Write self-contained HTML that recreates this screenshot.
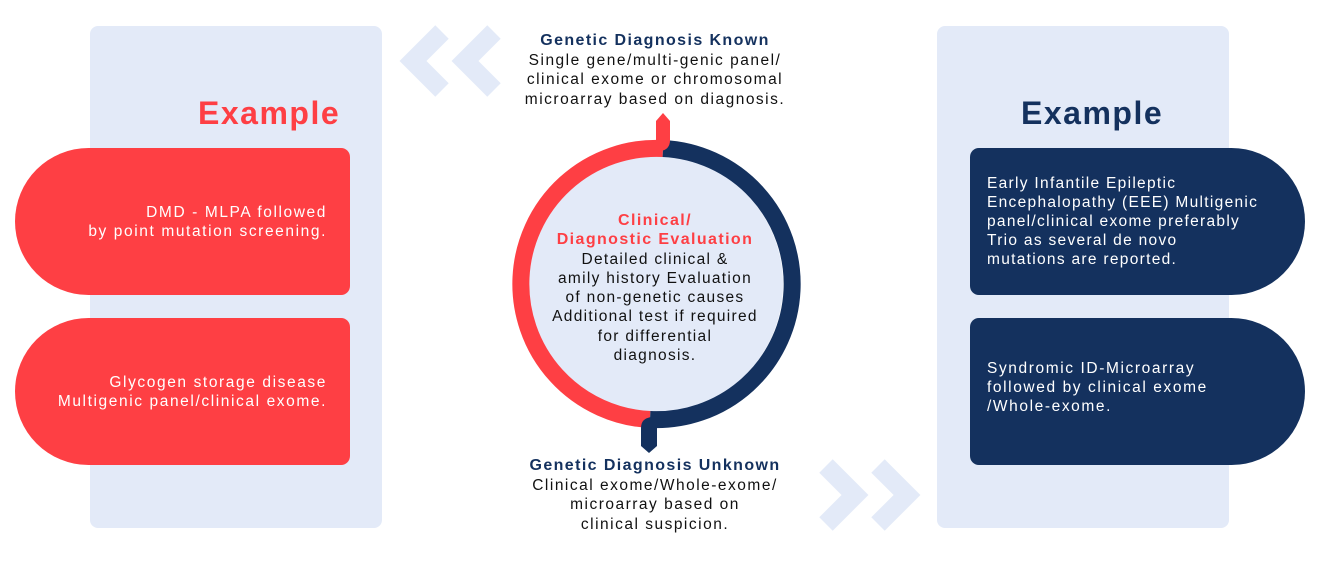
<!DOCTYPE html>
<html><head><style>
body{margin:0;width:1320px;height:566px;background:#fff;position:relative;overflow:hidden;font-family:"Liberation Sans",sans-serif}
.a{position:absolute}
.panel{background:#e3eaf8;border-radius:8px}
.pill{display:flex;align-items:center;color:#fff;font-size:15.5px;line-height:19px;letter-spacing:1.6px;box-sizing:border-box;white-space:nowrap}
.red{background:#fe3f44;border-radius:74px 9px 9px 74px;justify-content:flex-end;text-align:right;padding-right:23px}
.navy{background:#14315e;border-radius:9px 74px 74px 9px;padding-left:17px}
.ex{font-weight:bold;font-size:32px;letter-spacing:1.5px}
.t{text-align:center;color:#111;font-size:15.5px;line-height:19.5px;letter-spacing:1.5px;white-space:nowrap}
.t b{color:#14315e;font-size:16px;letter-spacing:1.4px}
</style></head><body>
<div class="a panel" style="left:90px;top:26px;width:292px;height:502px"></div>
<div class="a panel" style="left:937px;top:26px;width:292px;height:502px"></div>
<div class="a ex" style="left:198px;top:95px;color:#fe3f44">Example</div>
<div class="a ex" style="left:1021px;top:95px;color:#14315e">Example</div>
<div class="a pill red" style="left:15px;top:148px;width:335px;height:147px">DMD - MLPA followed<br>by point mutation screening.</div>
<div class="a pill red" style="left:15px;top:318px;width:335px;height:147px">Glycogen storage disease<br>Multigenic panel/clinical exome.</div>
<div class="a pill navy" style="left:970px;top:148px;width:335px;height:147px;letter-spacing:1.3px">Early Infantile Epileptic<br>Encephalopathy (EEE) Multigenic<br>panel/clinical exome preferably<br>Trio as several de novo<br>mutations are reported.</div>
<div class="a pill navy" style="left:970px;top:318px;width:335px;height:147px;padding-bottom:8px">Syndromic ID-Microarray<br>followed by clinical exome<br>/Whole-exome.</div>
<svg class="a" style="left:0;top:0" width="1320" height="566">
<g fill="none" stroke="#e3eaf8" stroke-width="19" stroke-linejoin="miter">
<polyline points="442,32 413,61 442,90"/><polyline points="494,32 465,61 494,90"/>
<polyline points="826,466 855,495 826,524"/><polyline points="878,466 907,495 878,524"/>
</g>
<circle cx="654" cy="284" r="129" fill="#e3eaf8"/>
<path d="M663,148.5 A135.5,135.5 0 0 0 650,419.5" fill="none" stroke="#fe3f44" stroke-width="17"/>
<path d="M663,148.5 A135.5,135.5 0 0 1 650,419.5" fill="none" stroke="#14315e" stroke-width="17"/>
<path d="M656,148 L656,121 L663,113 L670,121 L670,140 Q670,150 660,151 Z" fill="#fe3f44"/>
<path d="M641,446 L641,428 Q641,418 652,417 L657,417 L657,446 L649,453 Z" fill="#14315e"/>
</svg>
<div class="a t" style="left:455px;top:31px;width:400px"><b>Genetic Diagnosis Known</b><br>Single gene/multi-genic panel/<br>clinical exome or chromosomal<br>microarray based on diagnosis.</div>
<div class="a t" style="left:455px;top:456px;width:400px"><b>Genetic Diagnosis Unknown</b><br>Clinical exome/Whole-exome/<br>microarray based on<br>clinical suspicion.</div>
<div class="a t" style="left:505px;top:211px;width:300px;line-height:19.3px;letter-spacing:1.3px"><b style="color:#fe3f44">Clinical/<br>Diagnostic Evaluation</b><br>Detailed clinical &amp;<br>amily history Evaluation<br>of non-genetic causes<br>Additional test if required<br>for differential<br>diagnosis.</div>
</body></html>
